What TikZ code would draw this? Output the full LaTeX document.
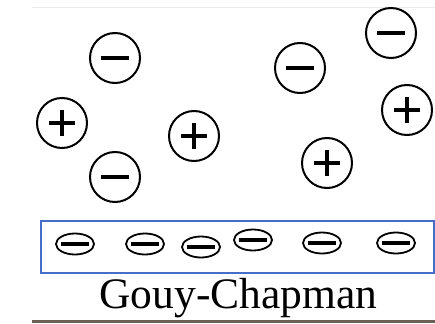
\documentclass[tikz,border=0pt]{standalone}
\usepackage{fontspec}
\setmainfont{Liberation Serif}
\usetikzlibrary{shapes.geometric}
\begin{document}
\begin{tikzpicture}[x=1pt,y=-1pt,
  ion/.style={circle,draw=black,line width=2pt,minimum size=50pt,inner sep=0pt},
  surf/.style={ellipse,draw=black,line width=1.8pt,minimum width=38pt,minimum height=21pt,inner sep=0pt},
  bar/.style={line width=3.4pt},
  sbar/.style={line width=4.2pt}]
\useasboundingbox (0,0) rectangle (435,323);
\fill[white] (0,0) rectangle (435,323);
% faint top rule and bottom rule
\coordinate (tl) at (32,8); \coordinate (tr) at (435,8);
\draw[black!8,line width=1pt] (tl) -- (tr);
\coordinate (bl) at (32,321.5); \coordinate (br) at (435,321.5);
\draw[color={rgb,255:red,110;green,95;blue,85},line width=3pt] (bl) -- (br);
% negative ions
\foreach \n/\x/\y in {m1/115/58, m2/115/177, m3/300/68, m4/391/33}{
  \node[ion] (\n) at (\x,\y) {};
  \draw[bar] ([xshift=-14pt]\n.center) -- ([xshift=14pt]\n.center);
}
% positive ions
\foreach \n/\x/\y in {p1/62/123, p2/194/136, p3/407/110, p4/327/163}{
  \node[ion] (\n) at (\x,\y) {};
  \draw[bar,line width=4pt] ([xshift=-13pt]\n.center) -- ([xshift=13pt]\n.center);
  \draw[bar,line width=4pt] ([yshift=-13pt]\n.center) -- ([yshift=13pt]\n.center);
}
% surface box
\node[draw={rgb,255:red,70;green,110;blue,200},line width=1.5pt,minimum width=393pt,minimum height=52pt,inner sep=0pt,anchor=north west] (box) at (40,220) {};
\foreach \n/\x/\y in {s1/75/244, s2/145/244, s3/201/247, s4/253/240, s5/322/243, s6/396/243}{
  \node[surf] (\n) at (\x,\y) {};
  \draw[sbar] ([xshift=-14pt]\n.center) -- ([xshift=14pt]\n.center);
}
\node[anchor=base,font=\fontsize{43.5}{43.5}\selectfont,inner sep=0pt] (lab) at (238.5,308) {Gouy-Chapman};
\end{tikzpicture}
\end{document}
